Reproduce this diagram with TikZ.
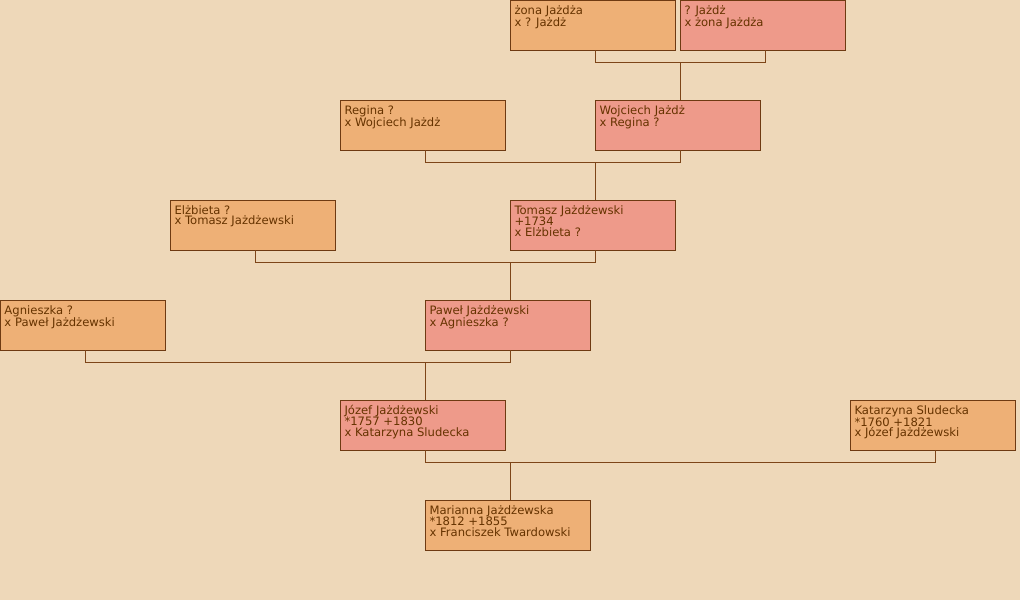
\documentclass[tikz,border=0pt]{standalone}
\usepackage{fontspec}
\setmainfont{DejaVu Sans}
\usetikzlibrary{calc}
\definecolor{bg}{HTML}{EED8B9}
\definecolor{orangebox}{HTML}{EEB076}
\definecolor{pinkbox}{HTML}{EE9A8A}
\definecolor{edge}{HTML}{6E3A12}
\definecolor{link}{HTML}{7D4518}
\definecolor{txt}{HTML}{663300}
\tikzset{
  person/.style={draw=edge, line width=1pt, rectangle, anchor=north west,
    minimum width=165pt, minimum height=50pt, inner sep=0pt, outer sep=0pt},
  female/.style={person, fill=orangebox},
  male/.style={person, fill=pinkbox},
  ptext/.style={anchor=base west, inner sep=0pt, outer sep=0pt, text=txt,
    font=\fontsize{11.6}{10.7}\selectfont},
  conn/.style={draw=link, line width=1pt}
}
\newcommand{\pers}[5]{%
  \node[#1] (#2) at (#3,#4) {};
  \node[ptext] (#2t) at ($(#2.north west)+(4.5,14)$) {\parbox[t]{160pt}{\raggedright #5}};
}
\begin{document}
\begin{tikzpicture}[x=1pt,y=-1pt]
\fill[bg] (0,0) rectangle (1020,600);
\useasboundingbox (0,0) rectangle (1020,600);

\pers{female}{zona}{510}{0}{żona Jażdża\\x ? Jażdż}
\pers{male}{jazdz}{680}{0}{? Jażdż\\x żona Jażdża}
\pers{female}{regina}{340}{100}{Regina ?\\x Wojciech Jażdż}
\pers{male}{wojciech}{595}{100}{Wojciech Jażdż\\x Regina ?}
\pers{female}{elzbieta}{170}{200}{Elżbieta ?\\x Tomasz Jażdżewski}
\pers{male}{tomasz}{510}{200}{Tomasz Jażdżewski\\+1734\\x Elżbieta ?}
\pers{female}{agnieszka}{0}{300}{Agnieszka ?\\x Paweł Jażdżewski}
\pers{male}{pawel}{425}{300}{Paweł Jażdżewski\\x Agnieszka ?}
\pers{male}{jozef}{340}{400}{Józef Jażdżewski\\{}*1757 +1830\\x Katarzyna Sludecka}
\pers{female}{katarzyna}{850}{400}{Katarzyna Sludecka\\{}*1760 +1821\\x Józef Jażdżewski}
\pers{female}{marianna}{425}{500}{Marianna Jażdżewska\\{}*1812 +1855\\x Franciszek Twardowski}

\newcommand{\family}[4]{%
  \coordinate (#1) at ($(#2.south west)+(85,12)$);
  \draw[conn] ($(#2.south west)+(85,0)$) -- (#1) -| ($(#3.south west)+(85,0)$);
  \draw[conn] ($(#4.north west)+(85,0)$) |- (#1);
}
\family{m1}{zona}{jazdz}{wojciech}
\family{m2}{regina}{wojciech}{tomasz}
\family{m3}{elzbieta}{tomasz}{pawel}
\family{m4}{agnieszka}{pawel}{jozef}
\family{m5}{jozef}{katarzyna}{marianna}
\end{tikzpicture}
\end{document}
